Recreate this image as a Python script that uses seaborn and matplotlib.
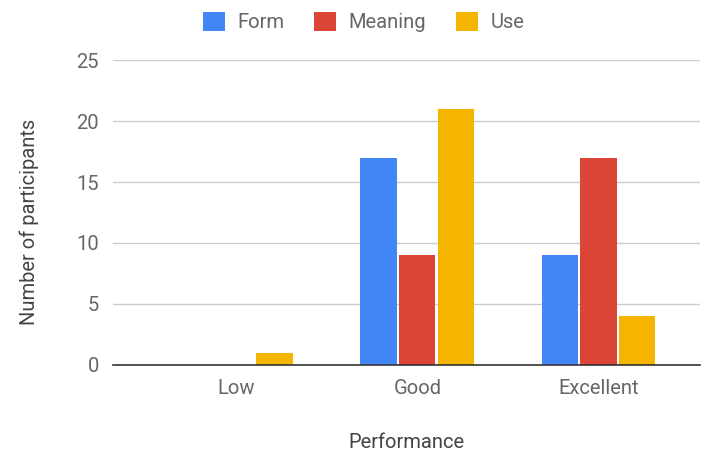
import matplotlib
matplotlib.use("Agg")
import matplotlib.pyplot as plt
import seaborn as sns
import pandas as pd
from matplotlib.patches import Patch

categories = ["Low", "Good", "Excellent"]
series = ["Form", "Meaning", "Use"]
form_vals = [0, 17, 9]
meaning_vals = [0, 9, 17]
use_vals = [1, 21, 4]
colors = ["#4285F4", "#DB4437", "#F4B400"]
yticks = [0, 5, 10, 15, 20, 25]

rows = []
for s, vals in zip(series, [form_vals, meaning_vals, use_vals]):
    for c, v in zip(categories, vals):
        rows.append({"Performance": c, "Series": s, "Value": v})
df = pd.DataFrame(rows)

sns.set_theme(style="white")
plt.rcParams['font.family'] = ['Roboto', 'DejaVu Sans']

txt = "#666666"
fs = 14.5

fig = plt.figure(figsize=(7.13, 4.55), dpi=100)
ax = fig.add_axes([0.158, 0.198, 0.824, 0.670])
sns.barplot(data=df, x="Performance", y="Value", hue="Series", order=categories,
            hue_order=series, palette=colors, width=0.64, gap=0.06, ax=ax,
            legend=False, saturation=1, linewidth=0)

ax.set_ylim(0, 25)
ax.set_xlim(-0.68, 2.56)
ax.set_yticks(yticks)
ax.set_yticklabels([str(t) for t in yticks])
ax.yaxis.grid(True, color="#cccccc", linewidth=1)
ax.set_axisbelow(True)
for sp in ["top", "right", "left"]:
    ax.spines[sp].set_visible(False)
ax.spines["bottom"].set_color("#333333")
ax.spines["bottom"].set_linewidth(1.2)
ax.tick_params(axis="both", length=0, labelsize=fs, colors=txt)
ax.tick_params(axis="y", pad=10)
ax.tick_params(axis="x", pad=10)
ax.set_xlabel("Performance", fontsize=fs, color="#444444", labelpad=25)
ax.set_ylabel("Number of participants", fontsize=fs, color="#444444")
ax.yaxis.set_label_coords(-0.125, 0.47)

handles = [Patch(facecolor=c, edgecolor="none") for c in colors]
fig.legend(handles, series, loc="center", bbox_to_anchor=(0.51, 0.952), ncol=3,
           frameon=False, fontsize=fs, handlelength=1.1, handleheight=1.1,
           columnspacing=1.5, handletextpad=0.6, labelcolor=txt)

fig.savefig("out.png", dpi=100)
